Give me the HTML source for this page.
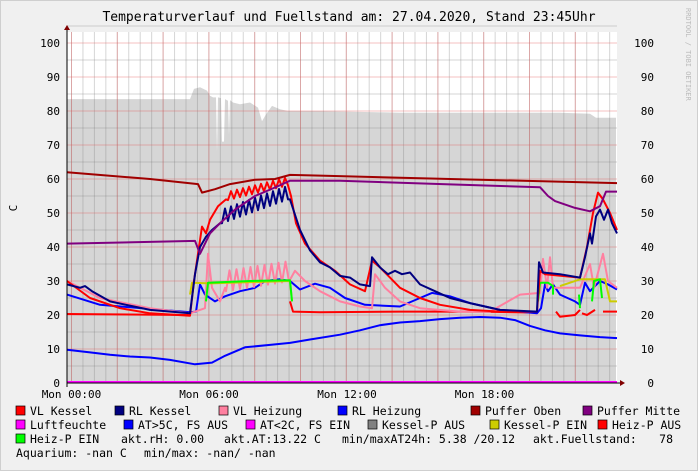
<!DOCTYPE html>
<html><head><meta charset="utf-8"><style>
body{margin:0;background:#f0f0f0;}
svg{display:block;font-family:"DejaVu Sans Mono","Liberation Mono",monospace;}
</style></head><body>
<svg id="s" width="698" height="471" viewBox="0 0 698 471" xmlns="http://www.w3.org/2000/svg">
<rect x="0" y="0" width="698" height="471" fill="#f0f0f0"/>
<rect x="0.5" y="0.5" width="697" height="470" fill="none" stroke="#cfcfcf"/>
<text x="349" y="21" font-size="13" text-anchor="middle" fill="#000">Temperaturverlauf und Fuellstand am: 27.04.2020, Stand 23:45Uhr</text>
<text x="686" y="8" font-size="7" fill="#bbb" transform="rotate(90 686 8)">RRDTOOL / TOBI OETIKER</text>
<text x="17" y="208" font-size="11" transform="rotate(-90 17 208)" text-anchor="middle">C</text>
<rect x="67" y="32" width="550" height="351" fill="#fff"/>
<g id="fill"></g>
<g id="grid"></g>
<g id="lines" fill="none" stroke-width="2" stroke-linejoin="round"></g>
<line x1="67" y1="383" x2="620" y2="383" stroke="#000"/>
<polygon points="620,380 625,383 620,386" fill="#800000"/>
<line x1="67" y1="30" x2="67" y2="387" stroke="#000"/>
<polygon points="64,30 67,25 70,30" fill="#800000"/>
<g font-size="11" fill="#000" id="lbl"></g>
<g font-size="11.5">
<rect x="16" y="406" width="9" height="9" fill="#ff0000" stroke="#000" stroke-width=".7"/><text x="30" y="415">VL Kessel</text>
<rect x="115" y="406" width="9" height="9" fill="#000080" stroke="#000" stroke-width=".7"/><text x="129" y="415">RL Kessel</text>
<rect x="219" y="406" width="9" height="9" fill="#ff80a0" stroke="#000" stroke-width=".7"/><text x="233" y="415">VL Heizung</text>
<rect x="338" y="406" width="9" height="9" fill="#0000ff" stroke="#000" stroke-width=".7"/><text x="352" y="415">RL Heizung</text>
<rect x="471" y="406" width="9" height="9" fill="#a00000" stroke="#000" stroke-width=".7"/><text x="485" y="415">Puffer Oben</text>
<rect x="583" y="406" width="9" height="9" fill="#800080" stroke="#000" stroke-width=".7"/><text x="597" y="415">Puffer Mitte</text>
<rect x="16" y="420" width="9" height="9" fill="#ff00ff" stroke="#000" stroke-width=".7"/><text x="30" y="429">Luftfeuchte</text>
<rect x="124" y="420" width="9" height="9" fill="#0000ff" stroke="#000" stroke-width=".7"/><text x="138" y="429">AT&gt;5C, FS AUS</text>
<rect x="246" y="420" width="9" height="9" fill="#ff00ff" stroke="#000" stroke-width=".7"/><text x="260" y="429">AT&lt;2C, FS EIN</text>
<rect x="368" y="420" width="9" height="9" fill="#808080" stroke="#000" stroke-width=".7"/><text x="382" y="429">Kessel-P AUS</text>
<rect x="490" y="420" width="9" height="9" fill="#cccc00" stroke="#000" stroke-width=".7"/><text x="504" y="429">Kessel-P EIN</text>
<rect x="598" y="420" width="9" height="9" fill="#ff0000" stroke="#000" stroke-width=".7"/><text x="612" y="429">Heiz-P AUS</text>
<rect x="16" y="434" width="9" height="9" fill="#00ff00" stroke="#000" stroke-width=".7"/><text x="30" y="443">Heiz-P EIN</text>
<text x="121" y="443">akt.rH: 0.00</text>
<text x="224" y="443">akt.AT:13.22 C</text>
<text x="342" y="443">min/maxAT24h: 5.38 /20.12</text>
<text x="533" y="443">akt.Fuellstand:</text>
<text x="673" y="443" text-anchor="end">78</text>
<text x="16" y="457">Aquarium: -nan C</text>
<text x="144" y="457">min/max: -nan/ -nan</text>
</g>
</svg>
<script>
const NS="http://www.w3.org/2000/svg";
const Y=v=>383-3.4*v;
function el(p,t,a){const e=document.createElementNS(NS,t);for(const k in a)e.setAttribute(k,a[k]);p.appendChild(e);return e;}
const grid=document.getElementById('grid'),lbl=document.getElementById('lbl');
for(let v=0;v<=105;v+=5){if(v%10)el(grid,'line',{x1:67,x2:617,y1:Y(v),y2:Y(v),stroke:'rgba(120,120,120,0.3)','stroke-width':1});}
for(let x=71.5-11.45;x<617;x+=11.45){if(x>67)el(grid,'line',{x1:x,x2:x,y1:32,y2:383,stroke:'rgba(120,120,120,0.3)','stroke-width':1});}
for(let v=10;v<=100;v+=10){el(grid,'line',{x1:67,x2:617,y1:Y(v),y2:Y(v),stroke:'rgba(230,80,80,0.35)','stroke-width':1});
 el(lbl,'text',{x:60,y:Y(v)+4,'text-anchor':'end'}).textContent=v;el(lbl,'text',{x:654,y:Y(v)+4,'text-anchor':'end'}).textContent=v;}
el(lbl,'text',{x:60,y:387,'text-anchor':'end'}).textContent=0;el(lbl,'text',{x:654,y:387,'text-anchor':'end'}).textContent=0;
for(let x=71.5;x<617;x+=45.8){el(grid,'line',{x1:x,x2:x,y1:32,y2:383,stroke:'rgba(230,80,80,0.35)','stroke-width':1});}
[["Mon 00:00",71.5],["Mon 06:00",209],["Mon 12:00",347],["Mon 18:00",484.5]].forEach(([t,x])=>{el(lbl,'text',{x:x,y:398,'text-anchor':'middle'}).textContent=t;});
const F=[[67,83.5],[180,83.5],[190,83.5],[194,86.5],[200,87],[207,86],[210,84.5],[213,84],[216,84],[217,68],[218,84],[221,83.8],[222,71],[224,71],[225,83.5],[228,83],[229,73],[230,83.2],[233,82.5],[240,82],[250,82.5],[258,81],[262,77],[266,79],[272,81.5],[280,80.5],[288,80],[320,80],[400,79.5],[500,79.5],[560,79.5],[590,79.2],[596,78],[604,78],[616,78]];
let d="M67,383 "+F.map(p=>"L"+p[0]+","+Y(p[1]).toFixed(1)).join(" ")+" L616,383 Z";
el(document.getElementById('fill'),'path',{d:d,fill:'#d6d6d6'});
const L=document.getElementById('lines');
function line(c,pts,w){el(L,'polyline',{points:pts.map(p=>p[0]+","+Y(p[1]).toFixed(1)).join(" "),stroke:c,'stroke-width':w||2});}
function noisy(x0,x1,a,b,amp,per){const r=[];for(let x=x0;x<=x1;x+=per/2){const t=(x-x0)/(x1-x0);r.push([x,a+(b-a)*t+((Math.round((x-x0)/(per/2))%2)?amp:-amp)]);}return r;}
line('#0000ff',[[67,9.8],[90,9],[110,8.3],[130,7.8],[150,7.5],[170,6.8],[195,5.5],[212,6],[225,8],[245,10.5],[270,11.2],[290,11.8],[310,12.8],[340,14.2],[360,15.5],[380,17],[400,17.8],[420,18.2],[440,18.8],[460,19.2],[480,19.4],[500,19.2],[515,18.5],[530,16.8],[545,15.5],[560,14.6],[580,14],[600,13.5],[617,13.2]]);
line('#ff0000',[[67,20.3],[190,20],[190,20]]);
line('#ff0000',[[290,24],[293,21],[320,20.8],[400,21],[480,21],[537,20.7]]);
line('#ff0000',[[556,21],[560,19.5],[575,20],[580,21.5]]);
line('#ff0000',[[582,20.5],[587,20],[595,21.5]]);
line('#ff0000',[[603,21],[617,21]]);
line('#0000ff',[[67,26],[100,23],[150,21.8],[190,20.8],[196,21],[200,29],[205,26],[215,24],[225,25.5],[240,27],[255,28],[265,30],[280,30.5],[290,30],[300,27.5],[315,29.2],[330,28],[345,25],[365,23],[400,22.5],[420,25],[432,26.5],[450,25.5],[470,23.5],[500,21.5],[537,20.5],[541,22],[545,29],[548,27],[553,29],[560,26],[575,24],[580,23],[585,29.5],[590,27],[595,28.5],[600,30],[608,29],[617,27.5]]);
line('#ff80a0',[[67,30],[100,25],[150,22],[190,20.5],[200,21.5],[205,22],[208,38],[212,28],[220,24],[225,28]].concat(noisy(226,292,30,33,3,7)).concat([[295,33],[305,30],[320,27],[340,24],[360,22.5],[372,22],[375,32],[385,28],[400,24],[420,22],[460,21],[490,21],[505,23.5],[520,26],[540,26.5],[543,36.5],[547,28],[550,37],[553,28],[580,28],[590,35],[594,28],[603,38],[608,30],[617,28]]));
line('#cccc00',[[190,26],[192,29.5],[210,29.3],[290,30],[292,24]]);
line('#cccc00',[[560,28.5],[570,29.5],[580,30.5],[605,30.5],[610,24],[617,24]]);
line('#00ff00',[[206,24],[208,29.5],[250,30],[290,30.2],[292,24]]);
line('#00ff00',[[538,24],[540,29.5],[548,29.5],[553,28.5],[553,26]]);
line('#00ff00',[[579,26],[580,22]]);
line('#00ff00',[[592,24],[594,30],[600,30.5],[602,25]]);
line('#ff0000',[[67,30],[90,25],[120,22],[150,20.5],[190,19.8],[194,30],[198,38],[202,46],[206,44],[210,48],[214,50],[218,52],[222,53],[226,54]].concat(noisy(228,290,55,59.5,1.2,6)).concat([[291,55],[296,47],[305,41],[320,36],[335,33],[350,29],[365,27],[372,36],[380,34],[390,31],[400,28],[420,25],[440,23],[470,21.5],[500,21],[537,21],[540,33],[545,32],[580,31],[587,40],[593,50],[598,56],[603,54],[610,50],[617,45]]));
line('#000080',[[67,29],[80,28],[85,28.5],[92,27],[110,24],[150,21.5],[190,20.5],[195,32],[200,40],[206,43],[212,45],[220,47]].concat(noisy(222,288,49,56,2,6)).concat([[290,54],[300,45],[310,39],[320,35.5],[330,34],[340,31.5],[350,31],[360,29],[370,28.5],[372,37],[380,34],[388,32],[395,33],[402,32],[410,32.5],[420,29],[435,27],[450,25],[470,23.5],[500,21.5],[537,21],[539,35.5],[543,32.5],[560,32],[580,31],[585,37],[590,44],[592,41],[596,49],[600,51],[604,48],[608,51],[612,47],[617,44]]));
line('#800080',[[67,41],[195,41.8],[200,38],[210,44],[220,47],[235,51],[255,55],[275,57.5],[290,59.5],[340,59.5],[450,58.4],[540,57.6],[548,55],[555,53.5],[575,51.5],[590,50.5],[600,52],[606,56.3],[617,56.3]]);
line('#a00000',[[67,62],[150,60],[198,58.5],[202,56],[215,57],[230,58.5],[255,59.8],[275,60],[290,61.2],[320,61],[450,60],[617,58.8]]);
line('#ff00ff',[[67,0.3],[617,0.3]]);
</script>
</body></html>
